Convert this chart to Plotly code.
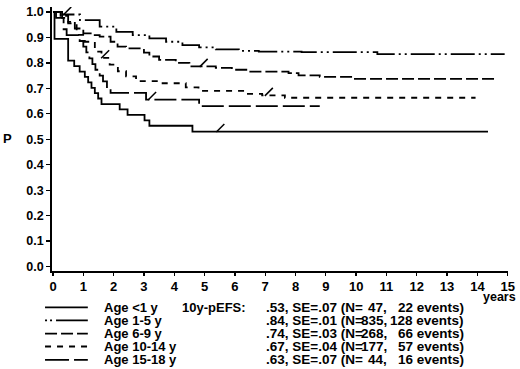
import plotly.graph_objects as go

# ---------------- data ----------------
t_lt1 = [0, 0.05, 0.5, 0.7, 0.88, 1.05, 1.16, 1.27, 1.38, 1.49, 1.6, 2.2, 2.46, 3.02, 3.18, 4.6, 14.35]
p_lt1 = [1.0, 0.894, 0.809, 0.787, 0.766, 0.745, 0.723, 0.702, 0.681, 0.660, 0.638, 0.617, 0.596, 0.574, 0.553, 0.530, 0.530]

t_1_5 = [0, 0.3, 0.89, 1.54, 2.09, 2.63, 3.18, 3.73, 4.27, 4.82, 5.37, 6.13, 6.79, 8.2, 10.7, 14.9]
p_1_5 = [1.0, 0.99, 0.968, 0.942, 0.922, 0.909, 0.896, 0.883, 0.870, 0.861, 0.853, 0.847, 0.844, 0.842, 0.834, 0.834]

t_6_9 = [0, 0.25, 0.5, 0.72, 1.0, 1.3, 1.54, 1.9, 2.13, 2.41, 3.0, 3.18, 3.5, 4.05, 4.5, 5.37, 5.9, 6.46, 7.77, 8.1, 8.8, 9.96, 14.6]
p_6_9 = [1.0, 0.985, 0.961, 0.935, 0.916, 0.909, 0.903, 0.883, 0.864, 0.857, 0.84, 0.825, 0.812, 0.80, 0.786, 0.78, 0.773, 0.766, 0.76, 0.751, 0.745, 0.737, 0.737]

t_10_14 = [0, 0.3, 0.5, 0.78, 1.05, 1.38, 1.6, 1.87, 2.14, 2.41, 2.74, 3.5, 4.38, 4.8, 6.35, 6.9, 7.65, 13.94]
p_10_14 = [1.0, 0.977, 0.955, 0.91, 0.883, 0.844, 0.82, 0.793, 0.767, 0.747, 0.728, 0.72, 0.704, 0.69, 0.678, 0.672, 0.663, 0.663]

t_15_18 = [0, 0.1, 0.35, 0.45, 0.88, 1.0, 1.1, 1.2, 1.3, 1.4, 1.54, 1.65, 1.78, 1.9, 3.07, 4.82, 8.8]
p_15_18 = [1.0, 0.977, 0.932, 0.909, 0.886, 0.864, 0.841, 0.818, 0.795, 0.773, 0.750, 0.727, 0.705, 0.682, 0.656, 0.630, 0.630]

# censor marks (time, probability)
cens_t = {"lt1": [5.4], "1_5": [0.35], "6_9": [4.85], "10_14": [1.6, 7.0], "15_18": [3.15]}
cens_p = {"lt1": [0.53], "1_5": [0.99], "6_9": [0.786], "10_14": [0.82, 0.672], "15_18": [0.656]}

group_labels = ["Age <1 y", "Age 1-5 y", "Age 6-9 y", "Age 10-14 y", "Age 15-18 y"]
est_text = [".53, SE=.07 (N=", ".84, SE=.01 (N=", ".74, SE=.03 (N=", ".67, SE=.04 (N=", ".63, SE=.07 (N="]
n_text = ["47,", "835,", "268,", "177,", "44,"]
events_text = ["22 events)", "128 events)", "66 events)", "57 events)", "16 events)"]

x_ticks = list(range(0, 16))
y_ticks = [round(i / 10, 1) for i in range(0, 11)]
y_tick_labels = [f"{v:.1f}" for v in y_ticks]

# ---------------- styling ----------------
FONT = "Liberation Sans, Arial, sans-serif"
dashes = ["solid", "24px,4px,2px,4px,2px,4px", "12px,4px", "6px,6px", "22px,5px"]
legend_dashes = ["solid", "2px,3px,2px,4px,32px,50px", "12px,4px", "6px,6px", "24px,5px"]
series = [(t_lt1, p_lt1, "lt1"), (t_1_5, p_1_5, "1_5"), (t_6_9, p_6_9, "6_9"),
          (t_10_14, p_10_14, "10_14"), (t_15_18, p_15_18, "15_18")]

# plot area in pixels
L, R, T, B = 52, 510.3, 5, 271.5
W, H = 520, 369
PW, PH = R - L, B - T


def fx(px):
    return (px - L) / PW


def fy(py):
    return (B - py) / PH


fig = go.Figure()
for (t, p, key), d, name in zip(series, dashes, group_labels):
    fig.add_trace(go.Scatter(x=t, y=p, mode="lines", line=dict(color="black", width=1.8, dash=d, shape="hv"),
                             name=name, showlegend=False, hoverinfo="skip"))
    fig.add_trace(go.Scatter(x=[v + 0.12 for v in cens_t[key]], y=[v + 0.014 for v in cens_p[key]],
                             mode="markers", showlegend=False, hoverinfo="skip",
                             marker=dict(symbol="line-ne", size=8, color="black",
                                         line=dict(color="black", width=1.5))))

shapes = []
annotations = []
row_y = [308.3, 321.3, 334.7, 347.7, 361.3]
VAL_FONT = dict(size=13.5)
for i in range(5):
    shapes.append(dict(type="line", xref="paper", yref="paper", x0=fx(45), x1=fx(88), y0=fy(row_y[i]), y1=fy(row_y[i]),
                       line=dict(color="black", width=1.8, dash=legend_dashes[i])))
    annotations.append(dict(xref="paper", yref="paper", x=fx(103), y=fy(row_y[i]), text=group_labels[i],
                            showarrow=False, xanchor="left", yanchor="middle", borderpad=0))
    annotations.append(dict(xref="paper", yref="paper", x=fx(266), y=fy(row_y[i]), text=est_text[i],
                            showarrow=False, xanchor="left", yanchor="middle", borderpad=0, font=VAL_FONT))
    annotations.append(dict(xref="paper", yref="paper", x=fx(390), y=fy(row_y[i]), text=n_text[i],
                            showarrow=False, xanchor="right", yanchor="middle", borderpad=0, font=VAL_FONT))
    annotations.append(dict(xref="paper", yref="paper", x=fx(467), y=fy(row_y[i]), text=events_text[i],
                            showarrow=False, xanchor="right", yanchor="middle", borderpad=0, font=VAL_FONT))
annotations.append(dict(xref="paper", yref="paper", x=fx(182), y=fy(row_y[0]), text="10y-pEFS:",
                        showarrow=False, xanchor="left", yanchor="middle", borderpad=0))
annotations.append(dict(xref="paper", yref="paper", x=fx(519), y=fy(298), text="years",
                        showarrow=False, xanchor="right", yanchor="middle", borderpad=0,
                        font=dict(size=12.5)))
annotations.append(dict(xref="paper", yref="paper", x=fx(2), y=fy(138), text="P",
                        showarrow=False, xanchor="left", yanchor="middle", borderpad=0))

px_per_year = 457 / 15
fig.update_layout(
    width=W, height=H,
    margin=dict(l=L, r=W - R, t=T, b=H - B, pad=0),
    paper_bgcolor="white", plot_bgcolor="white",
    font=dict(family=FONT, size=13, color="black", weight="bold"),
    shapes=shapes, annotations=annotations,
    xaxis=dict(range=[-1 / px_per_year, 15.01], tickvals=x_ticks, ticktext=[str(v) for v in x_ticks],
               showgrid=False, zeroline=False, showline=True, linecolor="black", linewidth=1.8,
               ticks="outside", ticklen=3, tickwidth=1.3, tickcolor="black",
               tickfont=dict(family=FONT, size=13, color="black", weight="bold")),
    yaxis=dict(range=[-4.5 / 257, 1 + 5 / 257], tickvals=y_ticks, ticktext=y_tick_labels,
               showgrid=False, zeroline=False, showline=True, linecolor="black", linewidth=1.8,
               ticks="outside", ticklen=4, tickwidth=1.3, tickcolor="black",
               tickfont=dict(family=FONT, size=12.5, color="black", weight="bold")),
)

fig.write_html("out.html", config={"displayModeBar": False, "staticPlot": True},
               post_script="document.body.style.margin='0';document.body.style.overflow='hidden';")
